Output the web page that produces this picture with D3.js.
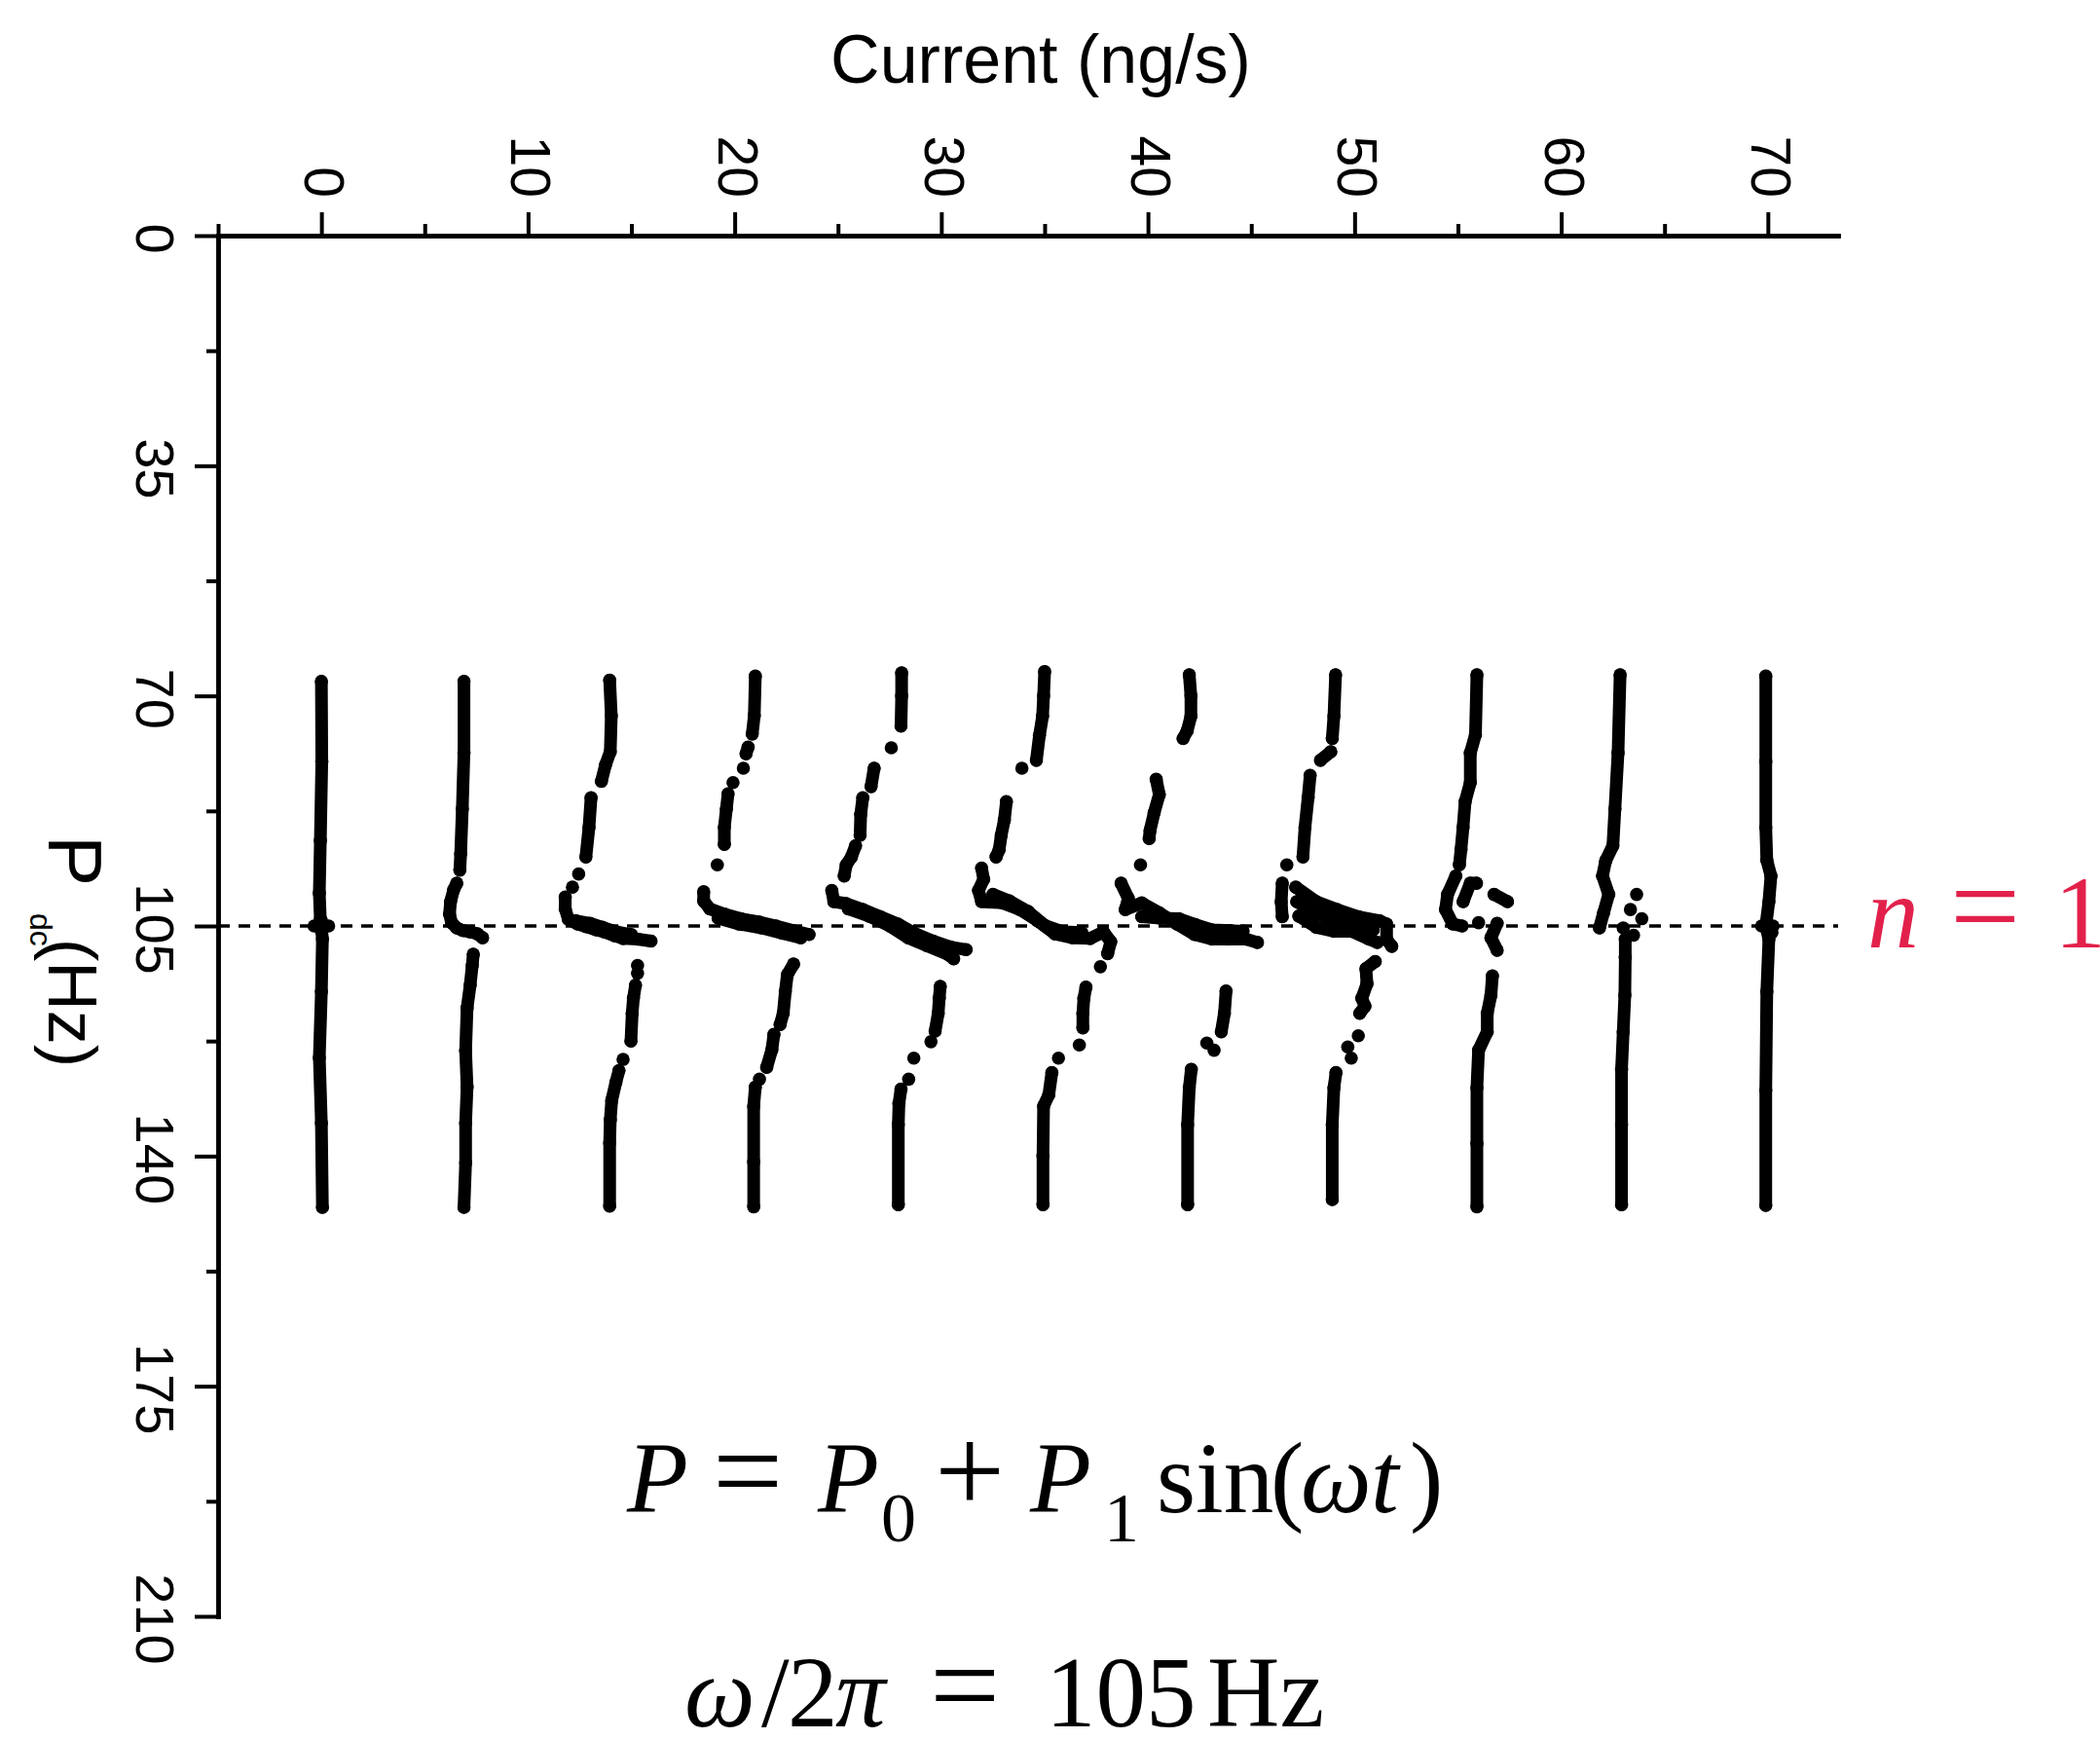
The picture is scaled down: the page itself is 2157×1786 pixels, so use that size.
<!DOCTYPE html>
<html><head><meta charset="utf-8">
<script src="https://cdn.jsdelivr.net/npm/d3@7"></script>
<style>html,body{margin:0;padding:0;background:#fff;}svg{display:block;}</style>
</head><body>
<script>
// ---------------- data ----------------
const currentOffsets = [0, 7, 14, 21, 28, 35, 42, 49, 56, 63, 70];
const xMajorTicks = [0, 10, 20, 30, 40, 50, 60, 70];
const xMinorTicks = [-5, 5, 15, 25, 35, 45, 55, 65];
const yMajorTicks = [0, 35, 70, 105, 140, 175, 210];
const yMinorTicks = [17.5, 52.5, 87.5, 122.5, 157.5, 192.5];
const resonanceP = 105;
// each trace: list of runs of [current, Pdc] points (a run of one point is an isolated point)
const trace0 = [
  [[0.0,67.8],[0.02,80],[-0.05,92],[-0.1,100],[-0.05,104],[0,105],[0.05,107],[0.0,115],[-0.1,125],[0.0,135],[0.05,147.8]],
  [[-0.35,105]],[[0.35,105]],[[0,104.2]],[[0,105.8]]
];
const trace1 = [
  [[6.9,67.8],[6.9,78.7],[6.82,87.2],[6.74,94],[6.7,96.5]],
  [[6.55,98.5],[6.4,99.5],[6.25,101.3],[6.2,103.2],[6.3,104.5],[6.55,105.3],[6.85,105.7],[7.2,105.9],[7.55,106.2],[7.8,106.8]],
  [[7.35,109.3],[7.3,111],[7.2,114],[7.05,117.5],[6.98,124],[7.05,129.5],[6.98,135],[6.98,141],[6.9,147.8]]
];
const trace2 = [
  [[13.95,67.6],[14.03,73],[13.98,78.5],[13.75,80.5],[13.55,83]],
  [[13.05,85.5],[12.95,90],[12.8,94.5]],
  [[12.45,97.1]],[[12.15,99.1]],
  [[11.8,100.6],[11.8,102.4],[11.95,104],[12.4,104.7],[12.8,105.1],[13.3,105.6],[13.7,105.9],[14.2,106.5],[14.6,106.9],[15.3,107],[15.95,107.3]],
  [[12.3,104.2],[13.0,104.6],[13.6,105.2],[14.3,105.9],[15.0,106.3]],
  [[15.3,111.0]],[[15.3,112.2]],
  [[15.2,114.0],[15.1,116],[15.04,118.3],[14.98,122.5]],
  [[14.6,125.3]],
  [[14.4,127],[14.25,128.8],[14.05,131.5],[13.98,134.5],[13.95,138],[13.95,147.6]]
];
const trace3 = [
  [[21.0,67.0],[20.95,73],[20.85,75.8]],
  [[20.65,77.8],[20.55,78.8]],
  [[20.42,81.0]],[[19.92,83.2]],
  [[19.68,84.9],[19.6,87.2],[19.5,90],[19.5,92.6]],
  [[19.16,95.7]],
  [[18.5,99.8],[18.5,101.2],[18.8,102.4],[19.5,103.2],[20.3,103.9],[21.2,104.4],[22.0,105.0],[22.85,105.7],[23.6,106.3]],
  [[19.2,103.8],[20.2,104.7],[21.3,105.3],[22.3,106.1],[23.2,106.8]],
  [[22.85,110.8],[22.55,112.4],[22.45,115],[22.35,118.3],[22.2,120]],
  [[21.9,121.5],[21.8,123.8],[21.55,126.5]],
  [[21.2,128.3]],
  [[21.0,129.5],[20.92,132.4],[20.92,140.9],[20.92,147.7]]
];
const trace4 = [
  [[28.08,66.5],[28.08,70],[28.05,74.6]],
  [[27.58,77.9]],
  [[26.75,81],[26.6,83.8]],
  [[26.2,85.5],[26.1,88],[26.07,91.2]],
  [[25.85,92.8],[25.65,94.5],[25.4,95.7],[25.3,97.4]],
  [[24.7,99.6],[24.8,101.3],[25.4,101.6],[26.2,102.5],[27.05,103.6],[27.9,104.7],[28.75,106.2],[29.6,107.3],[30.45,108.2],[31.2,108.6]],
  [[25.5,102.4],[26.5,103.5],[27.5,105.0],[28.4,106.8],[29.3,108.0],[30.3,109.3],[30.6,110.0]],
  [[29.95,114.2],[29.9,116],[29.85,118.3],[29.7,121]],
  [[29.5,122.6]],[[28.67,125.1]],[[28.42,128.3]],
  [[28.05,129.8],[27.95,132],[27.92,135.2],[27.92,147.4]]
];
const trace5 = [
  [[35.0,66.3],[34.95,70],[34.9,73.1],[34.75,76],[34.6,79.8]],
  [[33.9,81.0]],
  [[33.15,86.1],[33.05,88.9],[32.9,91.2],[32.8,93.4],[32.65,94.5]],
  [[31.95,96.2],[32.05,97.9],[31.8,99.6],[31.95,101.3],[32.97,101.5],[33.8,102.5],[34.65,104.2],[35.5,106.2],[36.35,106.8],[37.2,106.9],[37.85,105.9],[38.2,107.4],[38.05,109.2]],
  [[32.5,100.2],[33.3,101.2],[34.2,102.8],[35.0,104.9],[35.9,105.9],[36.8,106.0]],
  [[37.7,111.2]],
  [[37.0,114.3],[36.9,116],[36.85,118.3],[36.85,120.5]],
  [[36.68,123.1]],[[35.67,125.1]],
  [[35.35,127.3],[35.2,130.7],[34.95,132.4],[34.92,140],[34.92,147.4]]
];
const trace6 = [
  [[42.0,66.8],[42.08,70],[42.08,73.1],[41.9,75.3],[41.7,76.5]],
  [[40.4,82.7],[40.55,85],[40.3,87.8],[40.1,90.5],[40.06,91.7]],
  [[39.64,95.7]],
  [[38.7,98.5],[39.05,100.8],[38.9,102.5],[39.7,101.5],[40.55,103.0],[41.4,104.7],[42.25,106.3],[43.1,107.0],[43.9,107.0],[44.75,107.0],[45.3,107.5]],
  [[39.7,103.6],[40.6,103.8],[41.5,103.9],[42.3,104.8],[43.1,105.6],[44.0,105.7],[44.6,105.8]],
  [[43.78,114.9],[43.7,118.3],[43.55,121.1]],
  [[42.85,122.8]],[[43.2,123.9]],
  [[42.1,126.8],[42.0,129.6],[41.92,135.2],[41.92,147.4]]
];
const trace7 = [
  [[49.08,66.8],[49.0,73.1],[48.92,76.5]],
  [[48.85,78.5],[48.35,79.8]],
  [[47.85,82.1],[47.75,85.5],[47.6,90],[47.5,94.5]],
  [[46.72,95.7]],
  [[46.5,98.5],[46.45,101.3],[46.5,103.6]],
  [[47.15,99.1],[48.15,101.3],[49.15,102.5],[50.2,103.6],[51.2,104.2],[51.55,104.7],[51.55,107.0],[51.8,108.1]],
  [[47.2,101.3],[48.2,103.2],[49.1,104.2],[50.0,104.8],[50.9,105.6]],
  [[47.3,103.5],[48.15,105.2],[49.0,105.8],[49.85,105.8],[50.7,107.0],[51.1,107.5]],
  [[51.0,110.4],[50.55,111.5],[50.6,113.8],[50.35,116],[50.5,117.2],[50.25,118.3]],
  [[50.18,121.7]],[[49.67,123.4]],[[49.84,125.1]],
  [[49.1,127.3],[49.0,129.6],[48.92,135.2],[48.92,146.6]]
];
const trace8 = [
  [[55.92,66.8],[55.85,75.9],[55.6,78.7],[55.6,83.2],[55.35,86.1],[55.25,90],[55.15,93.4],[55.07,95.7]],
  [[54.9,97.4],[54.5,100.2],[54.4,102.5],[54.75,104.7],[55.2,105.0]],
  [[55.25,101.3],[55.6,98.5],[55.9,98.5]],
  [[56.75,100.2],[57.4,101.3]],
  [[56.9,104.6],[56.6,106.8],[56.9,108.7]],
  [[56.0,104.5]],
  [[56.67,112.6],[56.6,115.5],[56.42,118.3],[56.42,121.1],[56.0,123.9],[55.92,129.6],[55.92,138.1],[55.92,147.7]]
];
const trace9 = [
  [[62.85,66.8],[62.75,78.7],[62.6,87.2],[62.5,92.8],[62.15,95.1],[62.0,97.4],[62.3,100.2],[62.05,103],[61.85,105.3]],
  [[63.65,100.2]],[[63.35,102.5]],[[63.9,103.9]],[[63.5,106.4]],[[63.0,105.3]],
  [[63.1,107],[63.1,109.8],[63.08,115.5],[63.0,121.1],[62.92,126.8],[62.92,135.2],[62.92,147.4]]
];
const trace10 = [
  [[69.9,67],[69.9,80],[69.9,90],[69.95,95],[70.15,97.4],[70.05,101.3],[69.9,105],[70.05,107],[69.95,115],[69.9,130],[69.9,147.5]],
  [[69.7,105]],[[70.25,105]],[[70.2,106]]
];
const traces = [trace0, trace1, trace2, trace3, trace4, trace5, trace6, trace7, trace8, trace9, trace10];

// ---------------- drawing ----------------
const W = 2157, H = 1786;
const svg = d3.select("body").append("svg").attr("width", W).attr("height", H)
  .attr("font-family", "'Liberation Sans', Arial, sans-serif");

const x = d3.scaleLinear().domain([-5, 73.4]).range([224, 1888]);
const y = d3.scaleLinear().domain([0, 210]).range([242, 1660]);

// dashed resonance line
svg.append("line")
  .attr("x1", x(-5)).attr("x2", x(73.4))
  .attr("y1", y(resonanceP)).attr("y2", y(resonanceP))
  .attr("stroke", "#000").attr("stroke-width", 3.5).attr("stroke-dasharray", "12 9");

// traces
const line = d3.line().x(d => x(d[0])).y(d => y(d[1]));
const gData = svg.append("g");
traces.forEach(tr => {
  tr.forEach(run => {
    if (run.length > 1) {
      gData.append("path").attr("d", line(run)).attr("fill", "none")
        .attr("stroke", "#000").attr("stroke-width", 13)
        .attr("stroke-linejoin", "round").attr("stroke-linecap", "round");
    }
    run.forEach(p => {
      gData.append("circle").attr("cx", x(p[0])).attr("cy", y(p[1])).attr("r", 6.8).attr("fill", "#000");
    });
  });
});

// axes
function styleAxis(g) {
  g.select(".domain").attr("stroke-width", 4.5).attr("stroke-linecap", "square");
  g.selectAll(".tick line").attr("stroke-width", 4);
  g.selectAll(".tick text").remove();
}
svg.append("g").attr("transform", `translate(0,${y(0)})`)
  .call(d3.axisTop(x).tickValues(xMinorTicks).tickSize(12).tickSizeOuter(0)).call(styleAxis);
svg.append("g").attr("transform", `translate(0,${y(0)})`)
  .call(d3.axisTop(x).tickValues(xMajorTicks).tickSize(24).tickSizeOuter(0)).call(styleAxis);
svg.append("g").attr("transform", `translate(${x(-5)},0)`)
  .call(d3.axisLeft(y).tickValues(yMinorTicks).tickSize(12).tickSizeOuter(0)).call(styleAxis);
svg.append("g").attr("transform", `translate(${x(-5)},0)`)
  .call(d3.axisLeft(y).tickValues(yMajorTicks).tickSize(24).tickSizeOuter(0)).call(styleAxis);

// tick labels (rotated)
svg.append("g").selectAll("text").data(xMajorTicks).join("text")
  .attr("transform", d => `translate(${x(d) + 3},203) rotate(90)`)
  .attr("text-anchor", "end").attr("dy", "0.35em")
  .attr("font-size", 57).text(d => d);
svg.append("g").selectAll("text").data(yMajorTicks).join("text")
  .attr("transform", d => `translate(160,${y(d) + 3}) rotate(90)`)
  .attr("text-anchor", "middle").attr("dy", "0.35em")
  .attr("font-size", 56).text(d => d);

// axis titles
svg.append("text").attr("x", 1069).attr("y", 85).attr("text-anchor", "middle")
  .attr("font-size", 70).text("Current (ng/s)");
const yt = svg.append("text").attr("transform", "translate(50,858) rotate(90)").attr("font-size", 78);
yt.append("tspan").attr("x", 0).attr("y", 0).text("P");
yt.append("tspan").attr("x", 80).attr("y", 19).attr("font-size", 32).text("dc");
yt.append("tspan").attr("x", 106).attr("y", 0).attr("font-size", 70).text("(Hz)");

// n = 1 annotation
const red = "#e2214b";
const serif = "'Liberation Serif', 'Times New Roman', serif";
const nt = svg.append("text").attr("y", 973).attr("font-family", serif).attr("font-size", 106).attr("fill", red);
nt.append("tspan").attr("x", 1918).attr("font-style", "italic").text("n");
nt.append("tspan").attr("x", 2003).attr("font-size", 128).text("=");
nt.append("tspan").attr("x", 2110).text("1");

// formula lines (each line one text element, glyph groups placed explicitly)
function formula(baseline, parts) {
  const t = svg.append("text").attr("y", baseline).attr("font-family", serif).attr("font-size", 103);
  parts.forEach(p => {
    const s = t.append("tspan").attr("x", p[0]).attr("y", baseline + (p[4] || 0)).text(p[1]);
    if (p[2]) s.attr("font-style", "italic");
    if (p[3]) s.attr("font-size", p[3]);
  });
}
formula(1553, [
  [644, "P", true],
  [732, "=", false, 128],
  [840, "P", true],
  [905, "0", false, 72, 30],
  [960, "+", false, 128],
  [1058, "P", true],
  [1134, "1", false, 72, 30],
  [1188, "sin", false],
  [1305, "(", false],
  [1336, "\u03c9", true],
  [1408, "t", true],
  [1448, ")", false]
]);
formula(1773, [
  [703, "\u03c9", true],
  [782, "/", false],
  [809, "2", false],
  [858, "\u03c0", true],
  [955, "=", false, 128],
  [1074, "105", false],
  [1240, "Hz", false]
]);
</script>
</body></html>
